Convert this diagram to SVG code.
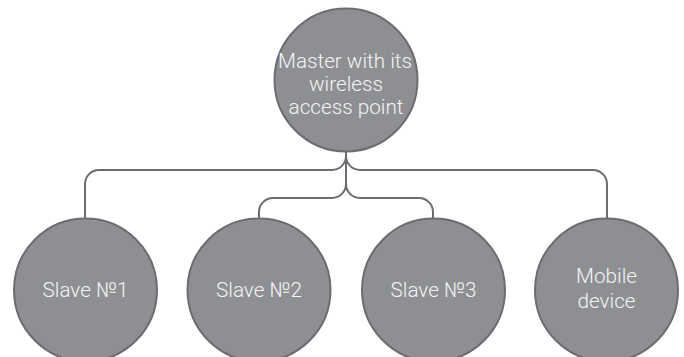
<svg xmlns="http://www.w3.org/2000/svg" width="684" height="357" viewBox="0 0 684 357">
<style>
.node{fill:#8e8f93;stroke:#6b6c70;stroke-width:2}
.lbl{fill:#f4f4f4;font-family:Roboto,"Liberation Sans",sans-serif;font-weight:300;font-size:20.7px;text-anchor:middle}
.conn{fill:none;stroke:#6b6c70;stroke-width:2}
</style>
<rect width="684" height="357" fill="#ffffff"/>
<g id="connectors">
<path class="conn" d="M346,152 V156 A14,14 0 0 1 332,170 H99 A14,14 0 0 0 85,184 V219"/>
<path class="conn" d="M346,156 A14,14 0 0 0 360,170 H593 A14,14 0 0 1 607,184 V219"/>
<path class="conn" d="M346,152 V184"/>
<path class="conn" d="M346,184 A14,14 0 0 1 332,198 H273 A14,14 0 0 0 259,212 V219"/>
<path class="conn" d="M346,184 A14,14 0 0 0 360,198 H419 A14,14 0 0 1 433,212 V219"/>
</g>
<g id="master">
<circle class="node" cx="346" cy="80" r="71.5"/>
<text class="lbl" x="345" y="68">Master with its</text>
<text class="lbl" x="346" y="91">wireless</text>
<text class="lbl" x="346" y="113.5">access point</text>
</g>
<g id="slave1">
<circle class="node" cx="85.5" cy="290" r="71.5"/>
<text class="lbl" x="85.5" y="297">Slave №1</text>
</g>
<g id="slave2">
<circle class="node" cx="259" cy="290" r="71.5"/>
<text class="lbl" x="259" y="297">Slave №2</text>
</g>
<g id="slave3">
<circle class="node" cx="433.5" cy="290" r="71.5"/>
<text class="lbl" x="433.5" y="297">Slave №3</text>
</g>
<g id="mobile">
<circle class="node" cx="606.5" cy="290" r="71.5"/>
<text class="lbl" x="606.5" y="283">Mobile</text>
<text class="lbl" x="606.5" y="307.5">device</text>
</g>
</svg>
